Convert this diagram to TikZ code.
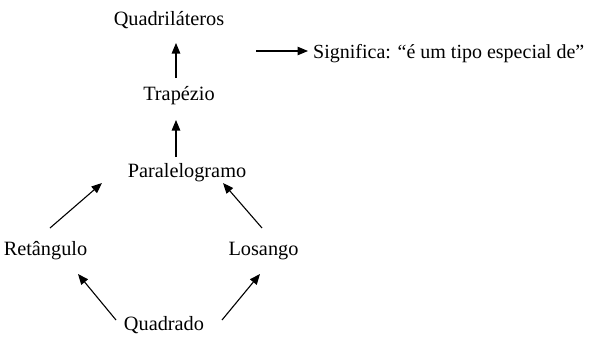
\documentclass[tikz,border=0pt]{standalone}
\usepackage{fontspec}
\setmainfont{Liberation Serif}
\usetikzlibrary{arrows.meta}
\begin{document}
\begin{tikzpicture}[x=1pt,y=1pt,
  lbl/.style={inner sep=0pt,anchor=base,font=\fontsize{20.3}{24}\selectfont},
  arr/.style={-{Triangle[length=10.5pt,width=8.5pt]},line width=1.1pt}]
\useasboundingbox (0,0) rectangle (589,-340);
\node[lbl] (quad) at (169,-25) {Quadriláteros};
\node[lbl] (trap) at (179,-100) {Trapézio};
\node[lbl] (par) at (187,-177) {Paralelogramo};
\node[lbl] (ret) at (45.5,-255) {Retângulo};
\node[lbl] (los) at (263.5,-255) {Losango};
\node[lbl] (qdr) at (164,-330) {Quadrado};
\node[lbl,anchor=base west,font=\fontsize{20}{24}\selectfont] (sig) at (313,-58) {Significa: “é um tipo especial de”};
\draw[arr] ([shift={(-3,22)}]trap.base) -- ([shift={(7,-18)}]quad.base);
\draw[arr] ([shift={(-11,20)}]par.base) -- ([shift={(-3,-20)}]trap.base);
\draw[arr] ([shift={(4.5,27)}]ret.base) -- ([shift={(-85,-6)}]par.base);
\draw[arr] ([shift={(-1.5,27)}]los.base) -- ([shift={(36,-6)}]par.base);
\draw[arr] ([shift={(-48,10)}]qdr.base) -- ([shift={(32.5,-19)}]ret.base);
\draw[arr] ([shift={(58,10)}]qdr.base) -- ([shift={(-3.5,-19)}]los.base);
\draw[arr] ([shift={(-57,7)}]sig.base west) -- ([shift={(-5,7)}]sig.base west);
\end{tikzpicture}
\end{document}
